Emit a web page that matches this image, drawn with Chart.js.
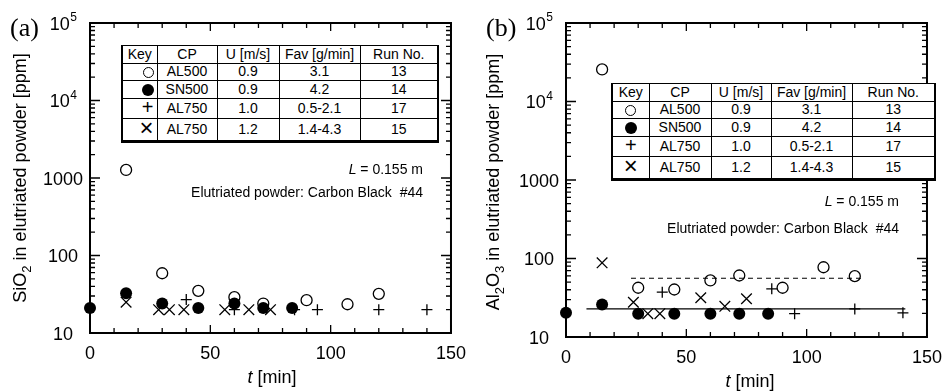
<!DOCTYPE html>
<html>
<head>
<meta charset="utf-8">
<script src="https://cdn.jsdelivr.net/npm/chart.js@4.4.1/dist/chart.umd.min.js"></script>
<style>
  body { margin: 0; background: #fff; width: 952px; height: 392px; overflow: hidden; position: relative;
         font-family: "Liberation Sans", Arial, sans-serif; color: #000; }
  canvas { position: absolute; top: 0; }
  .plabel { position: absolute; font-family: "Liberation Serif", "Times New Roman", serif; font-size: 26px; line-height: 26px; }
  .ytitle { position: absolute; font-size: 18px; line-height: 20px; white-space: nowrap;
            transform: translate(-50%, -50%) rotate(-90deg); }
  .ytitle sub { font-size: 13px; line-height: 0; vertical-align: -5px; }
  .xtitle { position: absolute; font-size: 18px; line-height: 20px; white-space: nowrap; transform: translate(-50%, -50%); }
  .note { position: absolute; font-size: 14px; line-height: 16px; white-space: nowrap; text-align: right; }
  table.key { position: absolute; border-collapse: collapse; table-layout: fixed; font-size: 14px; background: #fff;
              border-top: 1.5px solid #000; border-left: 2px solid #000; border-right: 2.5px solid #000; border-bottom: 3.5px solid #000; }
  table.key td { border: 1.3px solid #000; text-align: center; padding: 0; line-height: 15px; }
  .oc { display: inline-block; width: 9px; height: 9px; border: 1.3px solid #000; border-radius: 50%; vertical-align: middle; }
  .fc { display: inline-block; width: 12px; height: 12px; background: #000; border-radius: 50%; vertical-align: middle; }
  .sym { font-size: 20px; line-height: 15px; }
  .sym.x { font-size: 24px; }
</style>
</head>
<body>
<canvas id="chartA" width="476" height="392" style="left:0"></canvas>
<canvas id="chartB" width="476" height="392" style="left:476px"></canvas>

<div class="plabel" style="left:10px; top:15px">(a)</div>
<div class="plabel" style="left:486px; top:15px">(b)</div>

<div class="ytitle" style="left:20px; top:178px">SiO<sub>2</sub> in elutriated powder [ppm]</div>
<div class="ytitle" style="left:493px; top:182px">Al<sub>2</sub>O<sub>3</sub> in elutriated powder [ppm]</div>
<div class="xtitle" style="left:272px; top:377px"><i>t</i> [min]</div>
<div class="xtitle" style="left:750px; top:381px"><i>t</i> [min]</div>

<div class="note" style="right:529px; top:161px"><i>L</i> = 0.155 m</div>
<div class="note" style="right:529px; top:184px">Elutriated powder: Carbon Black&nbsp; #44</div>
<div class="note" style="right:53px; top:193px"><i>L</i> = 0.155 m</div>
<div class="note" style="right:53px; top:220px">Elutriated powder: Carbon Black&nbsp; #44</div>

<table class="key" id="keyA" style="left:121px; top:45px; width:316px; height:98px"></table>
<table class="key" id="keyB" style="left:611px; top:83px; width:323px; height:98px"></table>

<script>
// ---- axis ----
const X_MIN = 0, X_MAX = 150, X_STEP = 50, X_MINOR = 10;
const Y_MIN = 10, Y_MAX = 100000;
const yTickValues = [10, 100, 1000, 10000, 100000];
const yTickBase   = ['10', '100', '1000', '10', '10'];
const yTickExp    = ['', '', '', '4', '5'];

// ---- key table ----
const keyHead = ['Key', 'CP', 'U [m/s]', 'Fav [g/min]', 'Run No.'];
const keySym  = ['oc', 'fc', '+', '\u00d7'];
const keyCP   = ['AL500', 'SN500', 'AL750', 'AL750'];
const keyU    = ['0.9', '0.9', '1.0', '1.2'];
const keyFav  = ['3.1', '4.2', '0.5-2.1', '1.4-4.3'];
const keyRun  = ['13', '14', '17', '15'];

// ---- (a) SiO2 ----
const aOpenT   = [15, 30, 45, 60, 72, 90, 107, 120];
const aOpenV   = [1270, 59, 35, 29, 24, 26.5, 23.5, 32];
const aFilledT = [0, 15, 30, 45, 60, 72, 84];
const aFilledV = [21, 32.5, 24, 21, 24, 21, 21];
const aPlusT   = [40, 60, 85, 94.5, 120, 140];
const aPlusV   = [27, 20, 20, 20, 20, 20];
const aCrossT  = [15, 28.5, 33, 39, 56, 66, 75];
const aCrossV  = [25, 20, 20, 20, 20, 20, 20];

// ---- (b) Al2O3 ----
const bOpenT   = [15, 30, 45, 60, 72, 90, 107, 120];
const bOpenV   = [25600, 42.4, 40.3, 52.5, 60.7, 42.4, 77.4, 59.6];
const bFilledT = [0, 15, 30, 45, 60, 72, 84];
const bFilledV = [20.3, 25.9, 19.8, 19.8, 19.8, 19.8, 19.8];
const bPlusT   = [40, 85.5, 95, 120, 140];
const bPlusV   = [37.2, 41.1, 19.8, 22.8, 20.3];
const bCrossT  = [15, 28, 34, 39, 56, 66, 75];
const bCrossV  = [88, 27.7, 19.8, 19.8, 31.6, 24.6, 30.7];
const bDashT   = [27, 122.5];
const bDashV   = [56, 56];
const bSolidT  = [8.5, 141];
const bSolidV  = [22.8, 22.8];

function pts(ts, vs) {
  return ts.map((t, i) => ({ x: t, y: vs[i] }));
}

function buildKey(id) {
  const tbl = document.getElementById(id);
  const widths = id === 'keyA' ? [35, 60, 62, 81, 78] : [37, 62, 60, 81, 83];
  let html = '<colgroup>' + widths.map(w => `<col style="width:${w}px">`).join('') + '</colgroup>';
  html += '<tr>' + keyHead.map(h => `<td>${h}</td>`).join('') + '</tr>';
  keyCP.forEach((cp, i) => {
    const s = keySym[i];
    let sym;
    if (s === 'oc' || s === 'fc') sym = `<span class="${s}"></span>`;
    else sym = `<span class="sym${s === '+' ? '' : ' x'}">${s}</span>`;
    const align = id === 'keyA' ? 'text-align:right;padding-right:3px' : '';
    html += `<tr><td style="${align}">${sym}</td><td>${cp}</td><td>${keyU[i]}</td><td>${keyFav[i]}</td><td>${keyRun[i]}</td></tr>`;
  });
  tbl.innerHTML = html;
}
buildKey('keyA');
buildKey('keyB');

// frame, inward ticks and y tick labels
const framePlugin = {
  id: 'frame',
  beforeDatasetsDraw(chart) {
    const { ctx, chartArea: a, scales: { x, y } } = chart;
    ctx.save();
    ctx.strokeStyle = '#000';
    ctx.lineWidth = 1.3;
    ctx.beginPath();
    for (let t = X_MIN; t <= X_MAX; t += X_MINOR) {
      const px = x.getPixelForValue(t);
      const len = t % X_STEP === 0 ? 8 : 5;
      ctx.moveTo(px, a.bottom); ctx.lineTo(px, a.bottom - len);
      ctx.moveTo(px, a.top); ctx.lineTo(px, a.top + len);
    }
    for (let d = Y_MIN; d < Y_MAX; d *= 10) {
      for (let m = 1; m <= 9; m++) {
        const py = y.getPixelForValue(d * m);
        const len = m === 1 ? 10 : 5;
        ctx.moveTo(a.left, py); ctx.lineTo(a.left + len, py);
        ctx.moveTo(a.right, py); ctx.lineTo(a.right - len, py);
      }
    }
    ctx.stroke();
    ctx.lineWidth = 2;
    ctx.strokeRect(a.left, a.top, a.width, a.height);

    // y labels
    ctx.fillStyle = '#000';
    ctx.textBaseline = 'alphabetic';
    const cx = a.left - 27;
    yTickValues.forEach((v, i) => {
      const py = y.getPixelForValue(v);
      ctx.font = '18px "Liberation Sans", Arial, sans-serif';
      const wb = ctx.measureText(yTickBase[i]).width;
      ctx.font = '12px "Liberation Sans", Arial, sans-serif';
      const we = yTickExp[i] ? ctx.measureText(yTickExp[i]).width : 0;
      const x0 = cx - (wb + we) / 2;
      ctx.font = '18px "Liberation Sans", Arial, sans-serif';
      ctx.fillText(yTickBase[i], x0, py + 6.5);
      if (yTickExp[i]) {
        ctx.font = '12px "Liberation Sans", Arial, sans-serif';
        ctx.fillText(yTickExp[i], x0 + wb + 0.5, py - 2);
      }
    });
    ctx.restore();
  }
};

const openStyle   = { pointStyle: 'circle', pointRadius: 5.5, borderWidth: 1.3, borderColor: '#000', backgroundColor: 'rgba(0,0,0,0)' };
const filledStyle = { pointStyle: 'circle', pointRadius: 6, borderWidth: 0, borderColor: '#000', backgroundColor: '#000' };
const plusStyle   = { pointStyle: 'cross', pointRadius: 5.5, borderWidth: 1.3, borderColor: '#000' };
const crossStyle  = { pointStyle: 'crossRot', pointRadius: 7.5, borderWidth: 1.3, borderColor: '#000' };

function makeChart(id, datasets, rightPad, bottomH) {
  return new Chart(document.getElementById(id), {
    type: 'scatter',
    data: { datasets },
    options: {
      responsive: false,
      animation: false,
      events: [],
      layout: { padding: { left: 0, top: 23, right: rightPad, bottom: 0 } },
      plugins: { legend: { display: false }, tooltip: { enabled: false } },
      scales: {
        x: {
          type: 'linear', min: X_MIN, max: X_MAX,
          grid: { display: false, drawTicks: false },
          border: { display: false },
          ticks: { stepSize: X_STEP, color: '#000', padding: 10,
                   font: { family: '"Liberation Sans", Arial, sans-serif', size: 18 } },
          afterFit: s => { s.height = bottomH; }
        },
        y: {
          type: 'logarithmic', min: Y_MIN, max: Y_MAX,
          grid: { display: false, drawTicks: false },
          border: { display: false },
          ticks: { display: false },
          afterFit: s => { s.width = 90; }
        }
      }
    },
    plugins: [framePlugin]
  });
}

makeChart('chartA', [
  { data: pts(aOpenT, aOpenV), ...openStyle, clip: false },
  { data: pts(aPlusT, aPlusV), ...plusStyle, clip: false },
  { data: pts(aCrossT, aCrossV), ...crossStyle, clip: false },
  { data: pts(aFilledT, aFilledV), ...filledStyle, clip: false }
], 21, 59);

makeChart('chartB', [
  { type: 'line', data: pts(bDashT, bDashV), borderColor: '#000', borderWidth: 1.2, borderDash: [5, 4], pointRadius: 0, fill: false },
  { type: 'line', data: pts(bSolidT, bSolidV), borderColor: '#000', borderWidth: 1.2, pointRadius: 0, fill: false },
  { data: pts(bOpenT, bOpenV), ...openStyle, clip: false },
  { data: pts(bPlusT, bPlusV), ...plusStyle, clip: false },
  { data: pts(bCrossT, bCrossV), ...crossStyle, clip: false },
  { data: pts(bFilledT, bFilledV), ...filledStyle, clip: false }
], 17, 55);
</script>
</body>
</html>
